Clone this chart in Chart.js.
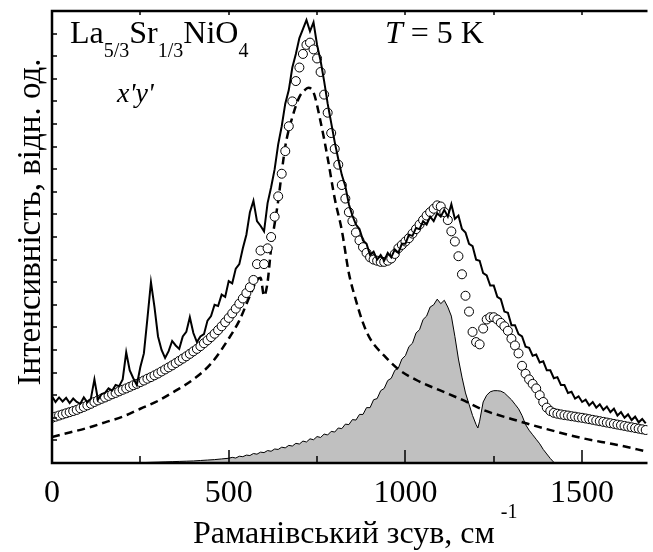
<!DOCTYPE html>
<html>
<head>
<meta charset="utf-8">
<script src="https://cdn.jsdelivr.net/npm/chart.js@4.4.1/dist/chart.umd.min.js"></script>
<style>
  html, body { margin: 0; padding: 0; background: #fff; }
</style>
</head>
<body>
<canvas id="chart-raman" width="653" height="552"></canvas>
<script>
// Raman spectrum La5/3Sr1/3NiO4, x'y', T = 5 K
const SHIFT_MIN = 0;
const SHIFT_MAX = 1685;
const xLabelTicks = [0, 500, 1000, 1500];
const xMajorTicks = [500, 1000, 1500];
const xMinorTicks = [250, 750, 1250];
const yTicks = [1, 2, 3, 4, 5, 6, 7, 8, 9, 10, 11, 12, 13, 14, 15, 16, 17, 18, 19];

// measured spectrum and the fit share one grid: 0..1680 cm-1, every 10
const gridStart = 0;
const gridStep = 10;

const measured = [
  2.95, 2.7, 2.9, 2.72, 2.88, 2.65, 2.85, 2.7, 2.62, 2.9,
  2.68, 2.85, 3.7, 2.8, 3.05, 3.1, 3.3, 3.2, 3.45, 3.4,
  3.7, 4.9, 4.1, 3.75, 3.45, 4.25, 4.85, 6.4, 8.0, 6.9,
  5.6, 5.0, 4.65, 4.95, 5.4, 5.2, 5.05, 5.6, 5.8, 6.45,
  5.75, 5.35, 5.6, 5.7, 6.3, 6.5, 7.0, 6.95, 7.45, 7.35,
  8.05, 7.95, 8.6, 8.8, 9.5, 10.1, 11.1, 11.6, 10.7, 10.5,
  10.25, 11.5, 12.2, 13.0, 14.1, 14.9, 15.9, 16.5, 17.5, 18.1,
  18.8, 19.2, 19.6, 19.1, 19.5, 18.5, 17.8, 16.9, 15.9, 15.05,
  14.2, 13.45, 12.75, 12.25, 11.45, 10.95, 10.55, 10.35, 9.85, 9.7,
  9.2, 9.35, 9.0, 9.2, 8.95, 9.3, 9.1, 9.45, 9.3, 9.7,
  9.7, 10.1, 10.05, 10.4, 10.35, 10.7, 10.55, 10.9, 10.7, 11.05,
  10.9, 11.2, 10.9, 11.45, 10.8, 10.95, 10.35, 10.2, 9.7, 9.6,
  9.0, 8.95, 8.4, 8.3, 7.85, 7.85, 7.35, 7.25, 6.7, 6.65,
  6.1, 6.1, 5.7, 5.6, 5.15, 5.1, 4.75, 4.8, 4.45, 4.5,
  4.1, 4.1, 3.75, 3.8, 3.45, 3.45, 3.1, 3.15, 2.85, 2.95,
  2.7, 2.8, 2.55, 2.7, 2.45, 2.6, 2.35, 2.5, 2.25, 2.4,
  2.1, 2.25, 2.0, 2.15, 1.9, 2.05, 1.8, 1.95, 1.75
];

const fitted = [
  2.0, 2.05, 2.1, 2.15, 2.2, 2.25, 2.3, 2.35, 2.42, 2.48,
  2.55, 2.62, 2.7, 2.77, 2.84, 2.9, 2.97, 3.04, 3.1, 3.17,
  3.24, 3.3, 3.37, 3.44, 3.5, 3.58, 3.65, 3.73, 3.8, 3.88,
  3.96, 4.05, 4.14, 4.23, 4.32, 4.42, 4.52, 4.62, 4.72, 4.83,
  4.94, 5.05, 5.17, 5.3, 5.43, 5.57, 5.72, 5.88, 6.05, 6.23,
  6.42, 6.62, 6.83, 7.05, 7.28, 7.52, 7.78, 8.1, 8.8, 9.4,
  8.8, 9.5, 10.0, 10.9, 11.8, 12.8, 13.8, 14.9, 16.0, 16.9,
  17.5, 18.1, 18.5, 18.6, 18.3, 17.9, 17.3, 16.3, 15.5, 14.6,
  13.9, 13.2, 12.3, 11.7, 11.1, 10.7, 10.2, 9.85, 9.55, 9.3,
  9.1, 9.0, 8.95, 8.9, 8.9, 8.95, 9.05, 9.25, 9.5, 9.65,
  9.8, 9.95, 10.15, 10.35, 10.55, 10.75, 10.95, 11.1, 11.25, 11.4,
  11.35, 11.1, 10.75, 10.25, 9.8, 9.15, 8.35, 7.4, 6.7, 5.8,
  5.35, 5.25, 5.95, 6.35, 6.45, 6.45, 6.35, 6.2, 6.05, 5.85,
  5.5, 5.2, 4.85, 4.3, 3.95, 3.7, 3.5, 3.3, 3.0, 2.7,
  2.45, 2.3, 2.22, 2.18, 2.15, 2.12, 2.1, 2.07, 2.05, 2.02,
  2.0, 1.97, 1.94, 1.91, 1.88, 1.85, 1.82, 1.79, 1.76, 1.73,
  1.7, 1.67, 1.64, 1.61, 1.58, 1.55, 1.52, 1.49, 1.46
];

// dashed component (main peak)
const peakShift = [0, 50, 100, 150, 200, 250, 300, 350, 400, 450, 500, 530, 560, 580, 590, 600, 610, 620, 640, 660, 680, 700, 715, 725, 740, 760, 780, 800, 820, 840, 860, 880, 900, 940, 980, 1040, 1100, 1160, 1220, 1300, 1400, 1500, 1600, 1685];
const peakIntensity = [1.15, 1.35, 1.55, 1.8, 2.05, 2.4, 2.75, 3.2, 3.7, 4.4, 5.5, 6.3, 7.4, 8.1, 8.2, 7.4, 8.0, 9.5, 11.6, 14.0, 15.3, 16.2, 16.5, 16.6, 16.4, 15.1, 13.5, 11.7, 10.3, 8.4, 7.2, 6.2, 5.5, 4.75, 4.15, 3.6, 3.2, 2.8, 2.35, 1.95, 1.5, 1.1, 0.8, 0.5];

// shaded two-magnon component
const bandShift = [240, 260, 280, 300, 320, 340, 360, 380, 400, 420, 440, 460, 480, 500,
  510, 520, 530, 540, 550, 560, 570, 580, 590, 600, 610, 620, 630, 640, 650, 660, 670, 680, 690, 700,
  710, 720, 730, 740, 750, 760, 770, 780, 790, 800, 810, 820, 830, 840, 850, 860, 870, 880, 890, 900,
  910, 920, 930, 940, 950, 960, 970, 980, 990, 1000, 1010, 1020, 1030, 1040, 1050, 1060, 1070, 1080, 1090, 1100,
  1110, 1120, 1130, 1140, 1150, 1160, 1170, 1180, 1190, 1200, 1205, 1210, 1220, 1230, 1240, 1250, 1260, 1270, 1280, 1290,
  1300, 1310, 1320, 1330, 1340, 1350, 1360, 1370, 1380, 1390, 1400, 1410, 1420, 1425];
const bandIntensity = [0, 0.02, 0.03, 0.04, 0.05, 0.06, 0.07, 0.08, 0.09, 0.11, 0.13, 0.15, 0.18, 0.21,
  0.25, 0.22, 0.3, 0.28, 0.35, 0.33, 0.42, 0.39, 0.48, 0.46, 0.55, 0.52, 0.62, 0.6, 0.7, 0.67, 0.78, 0.75, 0.87, 0.84,
  0.97, 0.93, 1.07, 1.03, 1.17, 1.13, 1.28, 1.24, 1.4, 1.37, 1.55, 1.52, 1.72, 1.7, 1.92, 1.9, 2.15, 2.15, 2.45, 2.45,
  2.8, 2.85, 3.2, 3.3, 3.65, 3.75, 4.1, 4.2, 4.6, 4.75, 5.15, 5.3, 5.75, 5.9, 6.35, 6.5, 6.9, 7.0, 7.25, 7.05,
  7.2, 6.9, 6.5, 5.6, 4.6, 3.8, 3.1, 2.6, 2.1, 1.7, 1.55, 1.85, 2.7, 3.0, 3.15, 3.2, 3.2, 3.18, 3.1, 2.95,
  2.8, 2.6, 2.4, 2.1, 1.7, 1.45, 1.25, 1.05, 0.85, 0.6, 0.4, 0.2, 0.03, 0];

const onGrid = (vals) => vals.map((v, i) => ({ x: gridStart + i * gridStep, y: v }));
const pairs = (xs, ys) => xs.map((x, i) => ({ x, y: ys[i] }));

const SERIF = '"Liberation Serif", "Times New Roman", serif';

const framePlugin = {
  id: 'frame',
  afterDatasetsDraw(chart) {
    const { ctx, chartArea: a } = chart;
    const x = chart.scales.x;
    const y = chart.scales.y;
    ctx.save();
    ctx.strokeStyle = '#000';
    ctx.lineWidth = 2.5;
    ctx.beginPath();
    ctx.moveTo(a.right, a.top);
    ctx.lineTo(a.left, a.top);
    ctx.lineTo(a.left, a.bottom);
    ctx.lineTo(a.right, a.bottom);
    ctx.stroke();

    ctx.lineWidth = 1.5;
    ctx.beginPath();
    xMajorTicks.forEach((v) => {
      const px = Math.round(x.getPixelForValue(v));
      ctx.moveTo(px, a.bottom);
      ctx.lineTo(px, a.bottom - 13);
    });
    xMinorTicks.forEach((v) => {
      const px = Math.round(x.getPixelForValue(v));
      ctx.moveTo(px, a.bottom);
      ctx.lineTo(px, a.bottom - 7);
    });
    [...xMajorTicks, ...xMinorTicks].forEach((v) => {
      const px = Math.round(x.getPixelForValue(v));
      ctx.moveTo(px, a.top);
      ctx.lineTo(px, a.top + 4);
    });
    yTicks.forEach((v) => {
      const py = Math.round(y.getPixelForValue(v));
      ctx.moveTo(a.left, py);
      ctx.lineTo(a.left + 5, py);
    });
    ctx.stroke();
    ctx.restore();
  },
  afterDraw(chart) {
    const { ctx } = chart;
    ctx.save();
    ctx.fillStyle = '#000';
    ctx.textBaseline = 'alphabetic';

    // formula with subscripts
    const big = `32px ${SERIF}`;
    const small = `20px ${SERIF}`;
    const parts = [
      ['La', big, 43], ['5/3', small, 57], ['Sr', big, 43],
      ['1/3', small, 57], ['NiO', big, 43], ['4', small, 57],
    ];
    let cx = 70;
    parts.forEach(([t, f, by]) => {
      ctx.font = f;
      ctx.fillText(t, cx, by);
      cx += ctx.measureText(t).width;
    });

    ctx.font = `italic 28px ${SERIF}`;
    ctx.fillText("x'y'", 117, 102);

    ctx.font = `italic 32px ${SERIF}`;
    ctx.fillText('T', 385, 43);
    const tw = ctx.measureText('T').width;
    ctx.font = big;
    ctx.fillText(' = 5 K', 385 + tw, 43);

    // axis titles
    ctx.font = `32px ${SERIF}`;
    const title = 'Раманівський зсув, см';
    ctx.fillText(title, 193, 543);
    const w = ctx.measureText(title).width;
    ctx.font = small;
    ctx.fillText('-1', 193 + w + 6, 518);

    ctx.save();
    ctx.translate(40, 222);
    ctx.rotate(-Math.PI / 2);
    ctx.textAlign = 'center';
    ctx.font = `33px ${SERIF}`;
    ctx.fillText('Інтенсивність, відн. од.', 0, 0);
    ctx.restore();

    ctx.restore();
  },
};

new Chart(document.getElementById('chart-raman'), {
  type: 'scatter',
  data: {
    datasets: [
      {
        label: 'експеримент',
        data: onGrid(measured),
        showLine: true,
        borderColor: '#000',
        borderWidth: 2,
        pointRadius: 0,
        tension: 0,
      },
      {
        label: 'підгонка',
        data: onGrid(fitted),
        showLine: false,
        pointRadius: 4.5,
        pointBackgroundColor: '#fff',
        pointBorderColor: '#000',
        pointBorderWidth: 1,
      },
      {
        label: 'пік',
        data: pairs(peakShift, peakIntensity),
        showLine: true,
        borderColor: '#000',
        borderWidth: 2.5,
        borderDash: [8, 5],
        pointRadius: 0,
        cubicInterpolationMode: 'monotone',
      },
      {
        label: 'смуга',
        data: pairs(bandShift, bandIntensity),
        showLine: true,
        borderColor: '#000',
        borderWidth: 1,
        backgroundColor: '#c0c0c0',
        fill: 'origin',
        pointRadius: 0,
        tension: 0,
      },
    ],
  },
  options: {
    responsive: false,
    animation: false,
    devicePixelRatio: 1,
    layout: { padding: { top: 11, right: 0, left: 0, bottom: 0 } },
    plugins: { legend: { display: false }, tooltip: { enabled: false } },
    scales: {
      x: {
        type: 'linear',
        min: SHIFT_MIN,
        max: SHIFT_MAX,
        grid: { display: false, drawTicks: false },
        border: { display: false },
        afterFit: (s) => { s.height = 89; },
        afterBuildTicks: (s) => { s.ticks = xLabelTicks.map((v) => ({ value: v })); },
        ticks: {
          padding: 11,
          color: '#000',
          maxRotation: 0,
          font: { family: SERIF, size: 32 },
          callback: (v) => String(v),
        },
      },
      y: {
        min: 0,
        max: 20,
        grid: { display: false, drawTicks: false },
        border: { display: false },
        ticks: { display: false },
        afterFit: (s) => { s.width = 52; },
      },
    },
  },
  plugins: [framePlugin],
});
</script>
</body>
</html>
